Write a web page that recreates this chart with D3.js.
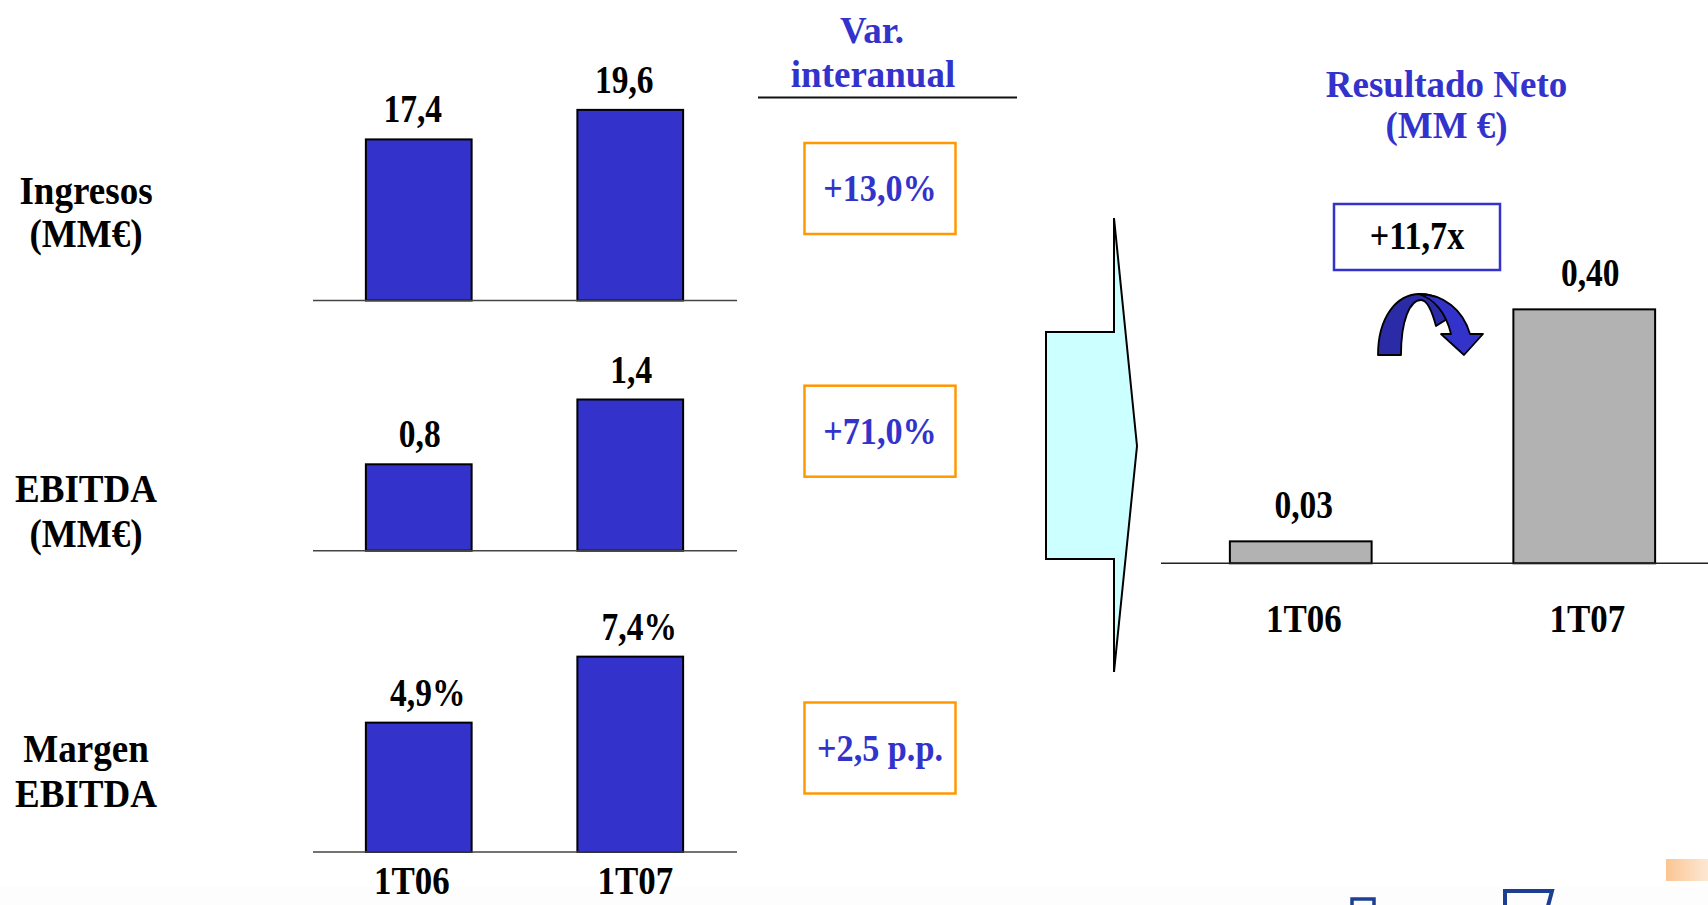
<!DOCTYPE html>
<html>
<head>
<meta charset="utf-8">
<script src="https://cdn.jsdelivr.net/npm/d3@7"></script>
<style>
  html, body { margin: 0; padding: 0; background: #ffffff; }
  svg { display: block; }
  text { font-family: "Liberation Serif", "Times New Roman", serif; font-weight: bold; }
</style>
</head>
<body>
<svg id="chart" width="1708" height="905"></svg>
<script>
// ---------------- DATA ----------------
const categories = ["1T06", "1T07"];
const ingresos = [17.4, 19.6];
const ebitda = [0.8, 1.4];
const margen = [4.9, 7.4];
const resultadoNeto = [0.03, 0.40];
const ingresosLabels = ["17,4", "19,6"];
const ebitdaLabels = ["0,8", "1,4"];
const margenLabels = ["4,9%", "7,4%"];
const resultadoLabels = ["0,03", "0,40"];
const rowTitles = [["Ingresos", "(MM€)"], ["EBITDA", "(MM€)"], ["Margen", "EBITDA"]];
const variations = ["+13,0%", "+71,0%", "+2,5 p.p."];
const variationTitle = ["Var.", "interanual"];
const resultadoTitle = ["Resultado Neto", "(MM €)"];
const multiple = "+11,7x";
// axis domains
const ingresosDomain = [5.4, 20];
const ebitdaDomain = [0, 1.5];
const margenDomain = [0, 8];
const resultadoDomain = [-0.005, 0.42];

// ---------------- STYLE / LAYOUT ----------------
const BLUE = "#3333cc";
const GREY = "#b2b2b2";
const ORANGE = "#ff9900";
const svg = d3.select("#chart");

function label(x, y, txt, opt = {}) {
  const size = opt.size || 36, sx = opt.sx || 0.95, sy = opt.sy || 1.12, fill = opt.fill || "#000";
  svg.append("text")
    .attr("transform", `translate(${x},${y}) scale(${sx},${sy})`)
    .attr("text-anchor", "middle")
    .attr("font-size", size)
    .attr("fill", fill)
    .text(txt);
}

// bottom light background strip & decorations
svg.append("rect").attr("x", 0).attr("y", 887).attr("width", 1708).attr("height", 18).attr("fill", "#fdfdfd");
const grad = svg.append("defs").append("linearGradient").attr("id", "og").attr("x1", "0").attr("x2", "1");
grad.append("stop").attr("offset", "0").attr("stop-color", "#fbc592");
grad.append("stop").attr("offset", "1").attr("stop-color", "#fde8d4");
svg.append("rect").attr("x", 1666).attr("y", 859).attr("width", 42).attr("height", 22).attr("fill", "url(#og)");
svg.append("path").attr("d", "M1352,906 L1352,899 L1374,899 L1374,906").attr("fill", "none").attr("stroke", "#1c3f94").attr("stroke-width", 3.5);
svg.append("path").attr("d", "M1505,906 L1505,891 L1552,891 L1548,906").attr("fill", "none").attr("stroke", "#1c3f94").attr("stroke-width", 4);

// ---------------- LEFT PANELS ----------------
const xLeft = d3.scaleBand().domain(categories).range([313, 736]).paddingInner(0.5).paddingOuter(0.25);

const panels = [
  { values: ingresos, labels: ingresosLabels, domain: ingresosDomain, base: 300.5, height: 196, title: rowTitles[0], tY: [204, 247], shift: -6 },
  { values: ebitda, labels: ebitdaLabels, domain: ebitdaDomain, base: 550.7, height: 162, title: rowTitles[1], tY: [502, 547], shift: 1 },
  { values: margen, labels: margenLabels, domain: margenDomain, base: 852, height: 211.2, title: rowTitles[2], tY: [762, 807], shift: 9 }
];

panels.forEach(p => {
  const y = d3.scaleLinear().domain(p.domain).range([p.base, p.base - p.height]);
  const g = svg.append("g");
  g.selectAll("rect.bar").data(p.values).join("rect")
    .attr("class", "bar")
    .attr("x", (d, i) => xLeft(categories[i]))
    .attr("width", xLeft.bandwidth())
    .attr("y", d => y(d))
    .attr("height", d => y(p.domain[0]) - y(d))
    .attr("fill", BLUE).attr("stroke", "#000").attr("stroke-width", 2);
  g.append("line").attr("x1", 313).attr("x2", 737).attr("y1", y(p.domain[0])).attr("y2", y(p.domain[0]))
    .attr("stroke", "#444").attr("stroke-width", 1.6);
  p.values.forEach((v, i) => {
    label(xLeft(categories[i]) + xLeft.bandwidth() / 2 + p.shift, y(v) - 17, p.labels[i], { sx: 0.93 });
  });
  label(86, p.tY[0], p.title[0], { sx: 1.03 });
  label(86, p.tY[1], p.title[1], { sx: 1.03 });
});
// category labels under the left panels
categories.forEach((c, i) => label(xLeft(c) + xLeft.bandwidth() / 2 + (i === 0 ? -7 : 5), 894, c, { sx: 0.97 }));

// ---------------- VARIATION COLUMN ----------------
label(872, 43, variationTitle[0], { size: 37, sx: 1, sy: 1.05, fill: BLUE });
label(873, 87, variationTitle[1], { size: 37, sx: 1, sy: 1.05, fill: BLUE });
svg.append("line").attr("x1", 758).attr("x2", 1017).attr("y1", 97.5).attr("y2", 97.5).attr("stroke", "#111").attr("stroke-width", 2);

const boxTops = [143, 385.7, 702.5];
variations.forEach((v, i) => {
  svg.append("rect").attr("x", 804.5).attr("y", boxTops[i]).attr("width", 151).attr("height", 91)
    .attr("fill", "#fff").attr("stroke", ORANGE).attr("stroke-width", 2.5);
  label(880, boxTops[i] + 58, v, { size: 36, sx: 0.95, sy: 1.05, fill: BLUE });
});

// ---------------- BIG ARROW ----------------
svg.append("path")
  .attr("d", "M1046,332 L1114,332 L1114,218 L1137,446 L1114,672 L1114,559 L1046,559 Z")
  .attr("fill", "#ccffff").attr("stroke", "#000").attr("stroke-width", 2).attr("stroke-linejoin", "miter");

// ---------------- RESULTADO NETO ----------------
label(1446.5, 97, resultadoTitle[0], { size: 37, sx: 1, sy: 1.05, fill: BLUE });
label(1446.5, 138, resultadoTitle[1], { size: 37, sx: 1, sy: 1.05, fill: BLUE });

const xRight = d3.scaleBand().domain(categories).range([1159, 1726]).paddingInner(0.5).paddingOuter(0.25);
const yRight = d3.scaleLinear().domain(resultadoDomain).range([563.3, 563.3 - 0.425 * 627]);
svg.selectAll("rect.rbar").data(resultadoNeto).join("rect")
  .attr("class", "rbar")
  .attr("x", (d, i) => xRight(categories[i]))
  .attr("width", xRight.bandwidth())
  .attr("y", d => yRight(d))
  .attr("height", d => yRight(resultadoDomain[0]) - yRight(d))
  .attr("fill", GREY).attr("stroke", "#000").attr("stroke-width", 2);
svg.append("line").attr("x1", 1161).attr("x2", 1708).attr("y1", yRight(resultadoDomain[0])).attr("y2", yRight(resultadoDomain[0]))
  .attr("stroke", "#222").attr("stroke-width", 1.6);
resultadoNeto.forEach((v, i) => {
  label(xRight(categories[i]) + xRight.bandwidth() / 2 + (i === 0 ? 3 : 6), yRight(v) - 23, resultadoLabels[i], { sx: 0.93 });
});
categories.forEach((c, i) => label(xRight(c) + xRight.bandwidth() / 2 + 3, 632, c, { sx: 0.97 }));

// multiple box
svg.append("rect").attr("x", 1334).attr("y", 204).attr("width", 166).attr("height", 66)
  .attr("fill", "#fff").attr("stroke", BLUE).attr("stroke-width", 2.5);
label(1417, 249, multiple, { sx: 0.95 });

// curved arrow
svg.append("path")
  .attr("d", "M1378,355 C1378,318 1396,294 1420,294 C1436,294 1447,302 1455,314 L1436,326 C1432,311 1427,300 1421,300 C1410,300 1401,320 1401,355 Z")
  .attr("fill", "#2b2ba8").attr("stroke", "#000").attr("stroke-width", 1.8).attr("stroke-linejoin", "round");
svg.append("path")
  .attr("d", "M1418,294 C1444,294 1463,310 1470,334 L1483,334 L1464,355 L1441,334 L1451,334 C1446,313 1434,298 1418,294 Z")
  .attr("fill", BLUE).attr("stroke", "#000").attr("stroke-width", 1.8).attr("stroke-linejoin", "round");
</script>
</body>
</html>
